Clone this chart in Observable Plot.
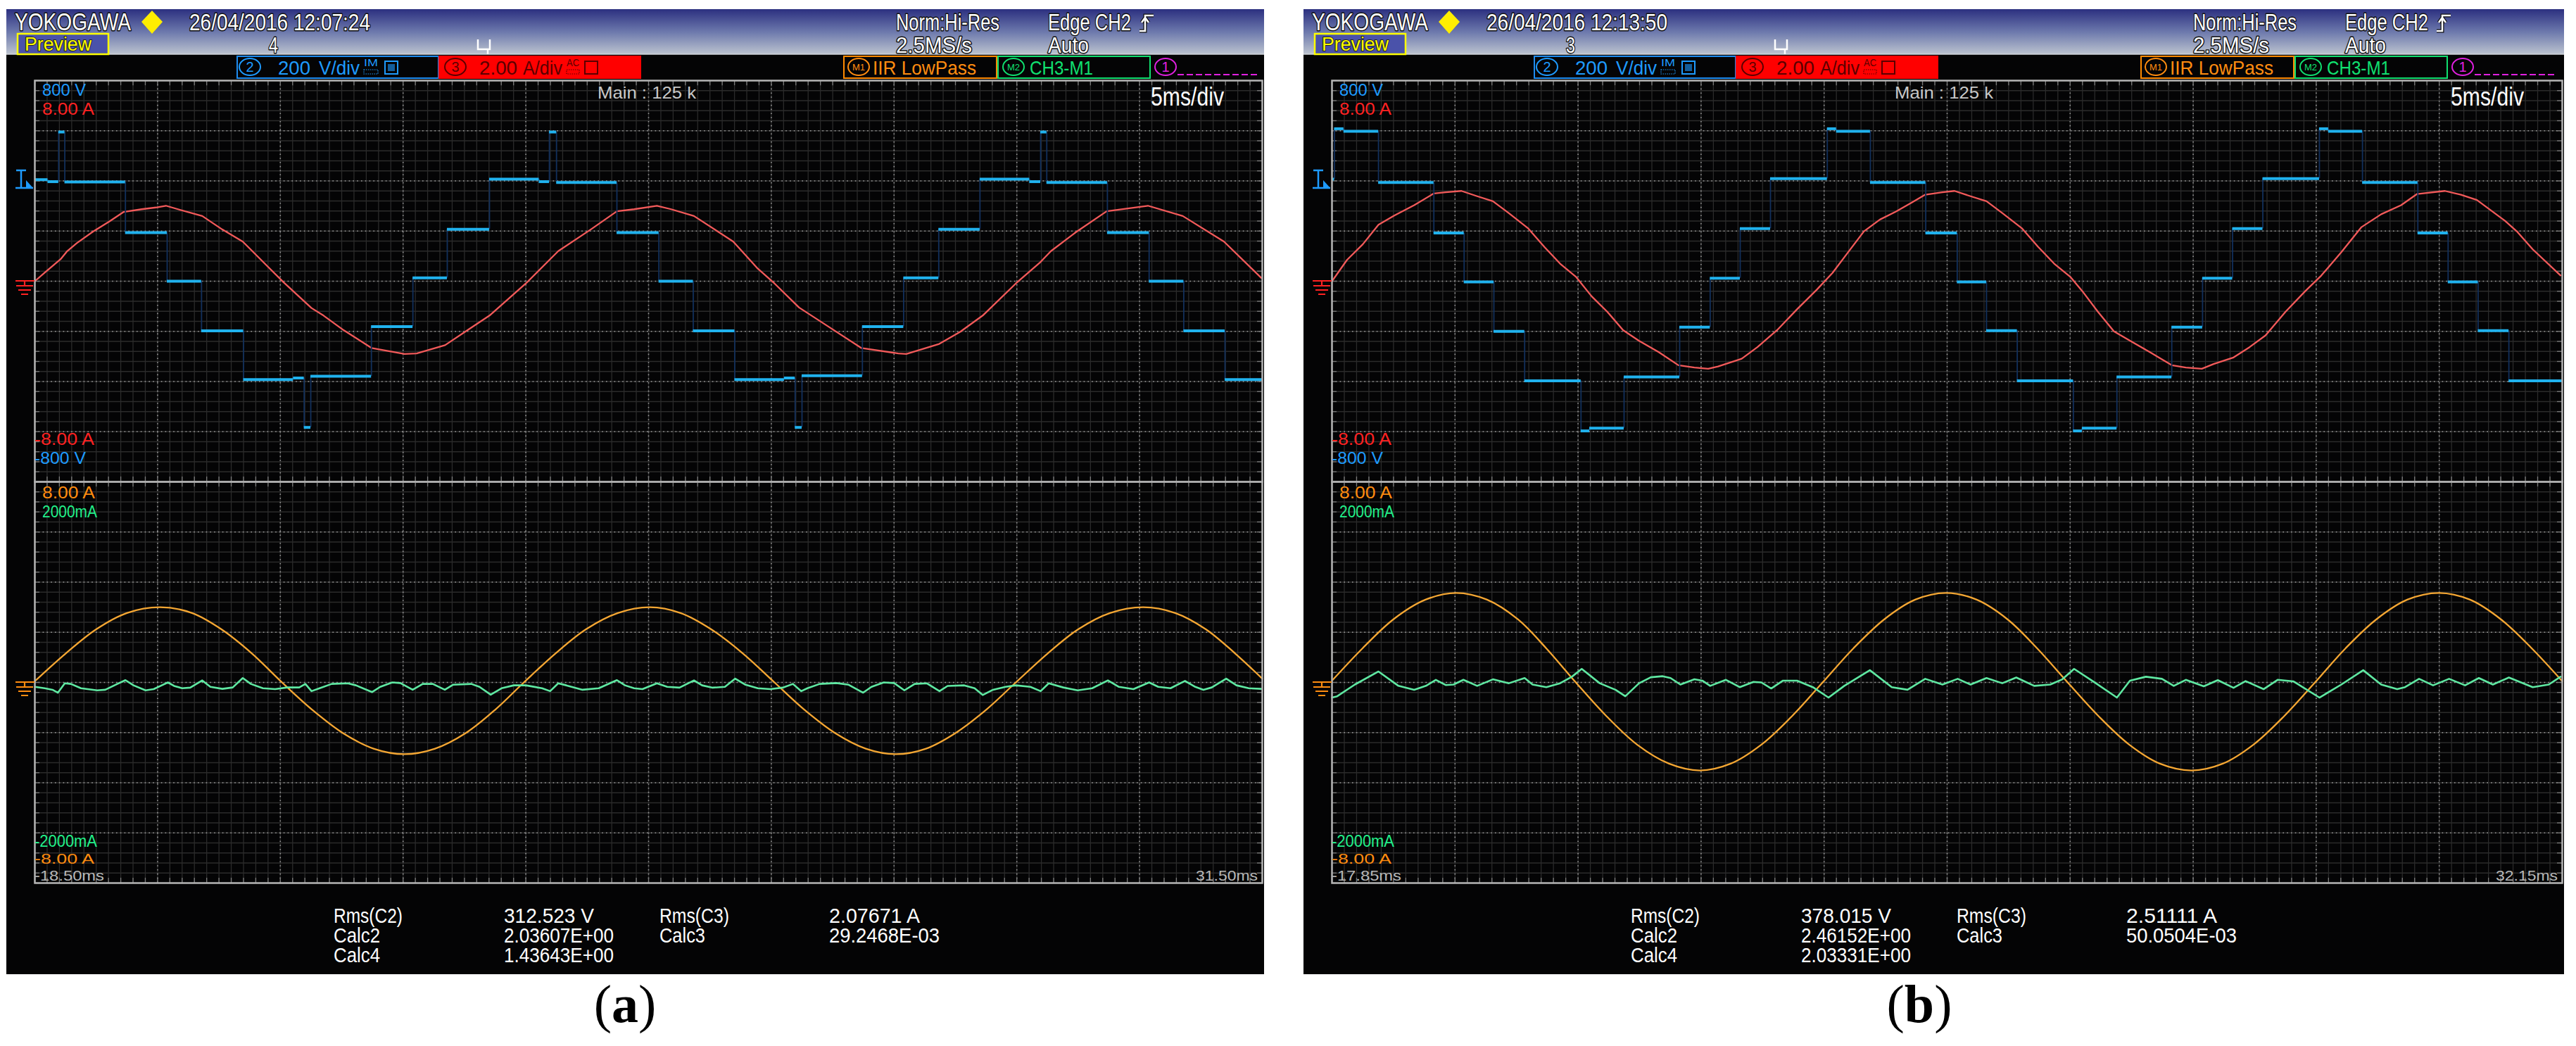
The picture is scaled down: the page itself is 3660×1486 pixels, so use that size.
<!DOCTYPE html>
<html><head><meta charset="utf-8">
<script src="https://cdn.jsdelivr.net/npm/d3@7"></script>
<script src="https://cdn.jsdelivr.net/npm/@observablehq/plot@0.6"></script>
<style>
html,body{margin:0;padding:0;background:#fff;}
#root{position:relative;width:3660px;height:1486px;overflow:hidden;background:#fff;}
.layer{position:absolute;left:0;top:0;}
</style></head><body><div id="root"></div>
<script>
// ---------------- DATA ----------------
// time in ms, voltage in V, current in A, difference current in mA
const blueStepsA = [[-18.5,405],[-17.97,397],[-17.53,595],[-17.28,396],[-14.81,194],[-13.11,0],[-11.71,-198],[-10.0,-392],[-7.97,-386],[-7.53,-583],[-7.26,-379],[-4.79,-181],[-3.1,13],[-1.7,207],[0.02,407],[2.04,397],[2.46,595],[2.75,394],[5.21,194],[6.92,0],[8.32,-198],[10.01,-392],[12.03,-386],[12.47,-583],[12.75,-377],[15.21,-181],[16.89,13],[18.32,207],[20.0,407],[22.02,397],[22.47,595],[22.72,394],[25.19,194],[26.89,0],[28.3,-198],[29.98,-392]];
const blueEndA = 31.5;
const redA = [[-18.5,0],[-18.1,0.34],[-17.45,0.88],[-17.2,1.18],[-16.79,1.52],[-16.13,1.98],[-15.47,2.38],[-14.89,2.76],[-14.15,2.87],[-13.57,2.94],[-13.16,3.01],[-12.67,2.87],[-11.68,2.6],[-10.86,2.06],[-10.03,1.58],[-9.04,0.61],[-8.38,-0.03],[-7.23,-1.07],[-6.74,-1.37],[-5.91,-1.96],[-4.79,-2.66],[-3.44,-2.9],[-2.95,-2.88],[-1.79,-2.55],[-0.81,-1.91],[0.02,-1.37],[1.5,-0.09],[2.82,1.2],[4.14,2.06],[5.21,2.79],[5.91,2.87],[6.84,3.01],[7.42,2.87],[8.35,2.6],[9.95,1.58],[10.95,0.5],[11.63,-0.09],[12.63,-1.05],[13.81,-1.8],[15.16,-2.66],[16.67,-2.88],[17.0,-2.9],[18.34,-2.5],[19.19,-2.02],[20.11,-1.37],[21.46,-0.09],[22.47,0.77],[22.89,1.2],[23.9,1.95],[25.16,2.79],[26.84,3.01],[28.26,2.6],[29.94,1.58],[31.46,0.13]];
const orangeA = [[-18.5,0.05],[-17.25,1.15],[-16.0,2.12],[-14.75,2.77],[-13.4,3.0],[-12.1,2.77],[-10.9,2.12],[-9.65,1.15],[-8.43,0],[-7.2,-1.09],[-5.95,-2.02],[-4.7,-2.64],[-3.44,-2.86],[-2.2,-2.64],[-0.95,-2.02],[0.25,-1.09],[1.42,0],[2.7,1.15],[3.95,2.12],[5.25,2.77],[6.55,3.0],[7.8,2.77],[9.05,2.12],[10.35,1.15],[11.63,0],[12.85,-1.09],[14.1,-2.02],[15.35,-2.64],[16.58,-2.86],[17.8,-2.64],[19.0,-2.02],[20.25,-1.09],[21.46,0],[22.75,1.15],[24.0,2.12],[25.3,2.77],[26.65,3.0],[27.95,2.77],[29.2,2.12],[30.4,1.15],[31.5,0.15]];
const greenA = [[-18.5,-44],[-18.1,-58],[-17.78,-73],[-17.56,-102],[-17.28,-9],[-17.03,-15],[-16.62,-58],[-15.96,-79],[-15.63,-73],[-15.14,-15],[-14.81,23],[-14.48,-29],[-13.99,-79],[-13.66,-67],[-13.33,-29],[-13.08,0],[-12.83,-35],[-12.5,-58],[-12.17,-52],[-11.68,20],[-11.35,-44],[-10.86,-64],[-10.44,-50],[-10.03,44],[-9.7,-15],[-9.21,-58],[-8.71,-67],[-8.22,-50],[-7.73,-50],[-7.48,-15],[-7.23,-87],[-6.9,-58],[-6.41,-15],[-5.75,-9],[-5.42,-29],[-4.76,-96],[-4.43,-44],[-3.94,0],[-3.61,-6],[-3.11,-73],[-2.7,-15],[-2.29,-15],[-1.8,-73],[-1.47,-23],[-0.72,-15],[-0.39,-44],[0.07,-122],[0.51,-58],[1.01,-29],[1.5,-29],[2.16,-58],[2.49,-87],[2.82,-9],[3.15,-29],[3.81,-73],[4.47,-58],[5.21,23],[5.54,-29],[5.91,-58],[6.25,-67],[6.84,-9],[7.26,-44],[7.76,-52],[8.35,20],[8.68,-29],[9.11,-52],[9.61,-44],[10.03,38],[10.45,-23],[10.95,-58],[11.46,-67],[11.96,-52],[12.38,-15],[12.72,-87],[12.97,-58],[13.47,-15],[14.15,-6],[14.65,-23],[15.24,-102],[15.58,-44],[16.08,0],[16.5,-6],[16.92,-79],[17.34,-15],[17.84,-9],[18.35,-87],[18.68,-35],[19.36,-29],[19.78,-58],[20.11,-125],[20.53,-73],[21.04,-44],[21.46,-29],[22.05,-44],[22.47,-87],[22.8,-9],[23.39,-50],[23.98,-79],[24.57,-58],[25.21,20],[25.66,-44],[26.25,-67],[26.89,0],[27.26,-44],[27.76,-58],[28.35,15],[28.77,-44],[29.1,-73],[29.44,-50],[30.03,38],[30.45,-29],[30.95,-58],[31.46,-64]];

const blueStepsB = [[-17.85,407],[-17.75,608],[-17.37,598],[-15.96,394],[-13.71,192],[-12.48,-3],[-11.27,-200],[-10.02,-397],[-7.73,-597],[-7.38,-586],[-5.98,-382],[-3.72,-183],[-2.48,12],[-1.26,210],[-0.03,409],[2.28,608],[2.65,598],[4.03,394],[6.28,192],[7.56,-3],[8.75,-197],[10.0,-397],[12.28,-597],[12.64,-586],[14.05,-382],[16.28,-183],[17.53,12],[18.75,210],[19.98,409],[22.28,608],[22.65,598],[24.03,394],[26.28,192],[27.51,-3],[28.73,-197],[29.98,-397]];
const blueEndB = 32.15;
const redB = [[-17.85,0],[-17.24,0.85],[-16.6,1.47],[-15.96,2.25],[-15.32,2.62],[-14.51,3.03],[-13.71,3.5],[-13.23,3.55],[-12.59,3.6],[-11.95,3.39],[-11.31,3.19],[-10.67,2.72],[-9.87,2.1],[-9.22,1.37],[-8.58,0.7],[-7.94,0.18],[-7.3,-0.6],[-6.66,-1.22],[-6.02,-1.95],[-5.38,-2.37],[-4.57,-2.83],[-3.77,-3.35],[-3.12,-3.44],[-2.56,-3.49],[-2.16,-3.4],[-1.2,-3.09],[-0.56,-2.63],[0.24,-1.95],[1.05,-1.12],[1.85,-0.34],[2.49,0.33],[3.13,1.16],[3.77,1.99],[4.42,2.46],[5.06,2.77],[5.7,3.13],[6.26,3.45],[6.96,3.55],[7.45,3.6],[8.1,3.39],[8.75,3.19],[9.39,2.72],[10.2,2.1],[10.85,1.37],[11.5,0.7],[12.15,0.18],[12.64,-0.39],[13.28,-1.22],[13.93,-2.0],[14.58,-2.37],[15.39,-2.83],[16.28,-3.35],[16.85,-3.44],[17.5,-3.49],[17.98,-3.3],[18.79,-3.04],[19.44,-2.63],[20.09,-2.16],[20.9,-1.22],[21.71,-0.39],[22.36,0.23],[23.17,1.16],[23.98,2.15],[24.79,2.67],[25.6,3.03],[26.25,3.48],[27.38,3.6],[28.03,3.45],[28.68,3.24],[29.82,2.41],[30.3,1.99],[30.95,1.27],[32.08,0.23]];
const orangeB = [[-17.85,0.07],[-16.6,1.37],[-15.35,2.52],[-14.05,3.3],[-12.8,3.57],[-11.55,3.3],[-10.3,2.52],[-9.15,1.37],[-7.94,0],[-6.7,-1.34],[-5.45,-2.48],[-4.15,-3.24],[-2.9,-3.51],[-1.65,-3.24],[-0.4,-2.48],[0.85,-1.34],[2.09,0],[3.35,1.37],[4.6,2.52],[5.85,3.3],[7.1,3.57],[8.35,3.3],[9.6,2.52],[10.8,1.37],[12.05,0],[13.3,-1.34],[14.55,-2.48],[15.8,-3.24],[17.08,-3.51],[18.35,-3.24],[19.6,-2.48],[20.85,-1.34],[22.1,0],[23.35,1.37],[24.6,2.52],[25.85,3.3],[27.14,3.57],[28.4,3.3],[29.65,2.52],[30.9,1.37],[32.15,0.05]];
const greenB = [[-17.85,-151],[-17.64,-138],[-16.92,-21],[-15.96,109],[-15.15,-34],[-14.51,-73],[-14.03,-34],[-13.63,26],[-13.23,-26],[-12.91,-21],[-12.51,26],[-11.95,-34],[-11.31,31],[-10.66,-8],[-10.02,44],[-9.7,-21],[-9.14,-47],[-8.58,-8],[-8.1,57],[-7.7,135],[-6.97,-8],[-6.33,-73],[-5.93,-138],[-5.37,-8],[-4.89,52],[-4.41,62],[-4.09,44],[-3.69,-21],[-3.12,31],[-2.8,18],[-2.48,-34],[-1.84,26],[-1.28,-47],[-0.72,5],[-0.4,0],[0.0,-60],[0.48,18],[1.05,18],[1.69,-47],[2.33,-151],[2.97,-34],[4.01,122],[4.9,-47],[5.54,-73],[6.26,36],[6.96,-21],[7.58,36],[8.1,-21],[8.75,44],[9.39,-8],[9.96,49],[10.69,-34],[11.34,-21],[11.83,31],[12.31,135],[13.12,5],[14.05,-151],[14.58,18],[15.23,57],[15.88,36],[16.36,-34],[16.85,26],[17.58,-39],[18.15,23],[18.79,-54],[19.28,13],[20.01,-67],[20.58,26],[21.23,10],[22.28,-151],[23.17,-21],[24.06,122],[24.79,-21],[25.44,-67],[25.76,-47],[26.33,36],[26.9,-29],[27.55,36],[28.2,-29],[28.76,44],[29.33,-21],[29.98,49],[30.95,-47],[31.6,-21],[32.08,57]];

// texts
const datesTxt = ["26/04/2016 12:07:24", "26/04/2016 12:13:50"];
const countTxt = ["4", "3"];
const timeStartTxt = ["-18.50ms", "-17.85ms"];
const timeEndTxt = ["31.50ms", "32.15ms"];
const measLabels = [["Rms(C2)", "Rms(C3)"], ["Calc2", "Calc3"], ["Calc4", ""]];
const measValuesA = [["312.523 V", "2.07671 A"], ["2.03607E+00", "29.2468E-03"], ["1.43643E+00", ""]];
const measValuesB = [["378.015 V", "2.51111 A"], ["2.46152E+00", "50.0504E-03"], ["2.03331E+00", ""]];
const panelLabels = ["a", "b"];

// per-channel scale (units per division)
const VDIV = 200, ADIV = 2, MADIV = 500, MSDIV = 5;

// ---------------- LAYOUT ----------------
const panels = [
  {L: 9, R: 1796, gx: 49, gw: 1744, t0: -18.5, blue: blueStepsA, blueEnd: blueEndA, red: redA, orange: orangeA, green: greenA, meas: measValuesA, labelX: 888},
  {L: 1852, R: 3643, gx: 1892, gw: 1748, t0: -17.85, blue: blueStepsB, blueEnd: blueEndB, red: redB, orange: orangeB, green: greenB, meas: measValuesB, labelX: 2727}
];
const GTOP = 114, GMID = 684, GBOT = 1254;
const FONT = "'Liberation Sans', Arial, sans-serif";
const C = {blue: "#1e9bff", bluetr: "#20b2ee", bluejump: "#12305c", red: "#ff2222", redtr: "#f25a5a",
  orange: "#ff8c10", orangetr: "#f5a733", green: "#22f08a", greentr: "#5fe8a2", grey: "#b8b8b8"};

const root = document.getElementById("root");
const bg = d3.select(root).append("svg").attr("class", "layer").attr("width", 3660).attr("height", 1486);
const defs = bg.append("defs");
const grad = defs.append("linearGradient").attr("id", "hdr").attr("x1", 0).attr("y1", 0).attr("x2", 0).attr("y2", 1);
grad.append("stop").attr("offset", "0%").attr("stop-color", "#2c3080");
grad.append("stop").attr("offset", "50%").attr("stop-color", "#6c78ac");
grad.append("stop").attr("offset", "100%").attr("stop-color", "#bcc3cf");

function txt(g, s, x1, x2, base, size, fill, opt = {}) {
  const t = g.append("text").attr("x", x1).attr("y", base)
    .attr("font-family", opt.family || FONT).attr("font-size", size).attr("fill", fill).text(s);
  if (x2 != null) t.attr("textLength", x2 - x1).attr("lengthAdjust", "spacingAndGlyphs");
  if (opt.stroke) t.attr("stroke", opt.stroke).attr("stroke-width", opt.sw || 3).attr("paint-order", "stroke").attr("stroke-linejoin", "round");
  if (opt.weight) t.attr("font-weight", opt.weight);
  return t;
}
function circ(g, cx, cy, label, color, size) {
  g.append("ellipse").attr("cx", cx).attr("cy", cy).attr("rx", 15).attr("ry", 12).attr("fill", "none").attr("stroke", color).attr("stroke-width", 2);
  g.append("text").attr("x", cx).attr("y", cy + size * 0.36).attr("text-anchor", "middle").attr("font-family", FONT)
    .attr("font-size", size).attr("fill", color).text(label);
}

// backgrounds + header
panels.forEach((p, k) => {
  const L = p.L, PW = p.R - p.L;
  bg.append("rect").attr("x", L).attr("y", 13).attr("width", PW).attr("height", 1371).attr("fill", "#040405");
  bg.append("rect").attr("x", L).attr("y", 13).attr("width", PW).attr("height", 64).attr("fill", "url(#hdr)");
  bg.append("line").attr("x1", L).attr("x2", p.R).attr("y1", 77).attr("y2", 77).attr("stroke", "#d0d4dc").attr("stroke-width", 1.5);
});

// ---------------- WINDOWS (Plot) ----------------
function segs(steps, end) { return steps.map((s, i) => ({x1: s[0], x2: i + 1 < steps.length ? steps[i + 1][0] : end, v: s[1]})); }
function jumps(steps) { return steps.slice(1).map((s, i) => ({x: s[0], v1: steps[i][1], v2: s[1]})); }

function gridMarks(t0) {
  const t1 = t0 + 10 * MSDIV;
  const minorX = d3.range(0, 101).map(i => t0 + i * MSDIV / 10);
  const minorY = d3.range(0, 41).map(i => -4 + i * 0.2);
  const majorX = d3.range(1, 10).map(i => t0 + i * MSDIV);
  const majorY = d3.range(-3, 4);
  return [
    Plot.ruleX(minorX, {stroke: "#2b2b2b", strokeWidth: 1.3}),
    Plot.ruleY(minorY, {stroke: "#2b2b2b", strokeWidth: 1.3}),
    Plot.ruleX(majorX, {stroke: "#9c9c9c", strokeWidth: 1.6, strokeDasharray: "1.6,4.2"}),
    Plot.ruleY(majorY, {stroke: "#9c9c9c", strokeWidth: 1.6, strokeDasharray: "1.6,4.2"}),
    // edge ticks of the screen frame
    Plot.ruleX(minorX, {y1: 4, y2: 3.9, stroke: "#7a7a7a", strokeWidth: 1.3}),
    Plot.ruleX(minorX, {y1: -4, y2: -3.9, stroke: "#7a7a7a", strokeWidth: 1.3}),
    Plot.ruleY(minorY, {x1: t0, x2: t0 + 0.2, stroke: "#7a7a7a", strokeWidth: 1.3}),
    Plot.ruleY(minorY, {x1: t1, x2: t1 - 0.2, stroke: "#7a7a7a", strokeWidth: 1.3})
  ];
}
function windowPlot(p, marks) {
  return Plot.plot({
    width: p.gw + 4, height: 574, marginLeft: 2, marginRight: 2, marginTop: 2, marginBottom: 2,
    x: {domain: [p.t0, p.t0 + 10 * MSDIV], axis: null},
    y: {domain: [-4, 4], axis: null},
    style: {background: "transparent", overflow: "visible"},
    marks: [...gridMarks(p.t0), ...marks, Plot.frame({stroke: "#b4b4b4", strokeWidth: 2.5})]
  });
}
panels.forEach(p => {
  const up = windowPlot(p, [
    Plot.line(p.red, {x: d => d[0], y: d => d[1] / ADIV, stroke: C.redtr, strokeWidth: 2.3}),
    Plot.ruleX(jumps(p.blue), {x: "x", y1: d => d.v1 / VDIV, y2: d => d.v2 / VDIV, stroke: C.bluejump, strokeWidth: 1.8}),
    Plot.ruleY(segs(p.blue, p.blueEnd), {y: d => d.v / VDIV, x1: "x1", x2: "x2", stroke: C.bluetr, strokeWidth: 4})
  ]);
  up.style.position = "absolute"; up.style.left = (p.gx - 2) + "px"; up.style.top = (GTOP - 2) + "px";
  root.appendChild(up);
  const lo = windowPlot(p, [
    Plot.line(p.orange, {x: d => d[0], y: d => d[1] / ADIV, stroke: C.orangetr, strokeWidth: 2.3, curve: "catmull-rom"}),
    Plot.line(p.green, {x: d => d[0], y: d => d[1] / MADIV, stroke: C.greentr, strokeWidth: 2.6})
  ]);
  lo.style.position = "absolute"; lo.style.left = (p.gx - 2) + "px"; lo.style.top = (GMID - 2) + "px";
  root.appendChild(lo);
});

// ---------------- OVERLAY TEXT ----------------
const ov = d3.select(root).append("svg").attr("class", "layer").attr("width", 3660).attr("height", 1486).style("pointer-events", "none");

panels.forEach((p, k) => {
  const L = p.L, gx = p.gx, gr = p.gx + p.gw;
  const g = ov.append("g");
  // header
  txt(g, "YOKOGAWA", L + 12, L + 177, 43, 35, "#ffffff", {stroke: "#101010", sw: 3});
  g.append("polygon").attr("points", `${L+207},15 ${L+222},31 ${L+207},48 ${L+192},31`).attr("fill", "#ffee00");
  txt(g, datesTxt[k], L + 260, L + 517, 43, 34, "#ffffff", {stroke: "#101010", sw: 3});
  g.append("rect").attr("x", L + 16).attr("y", 48).attr("width", 129).attr("height", 29).attr("fill", "#4a52aa").attr("stroke", "#ffff00").attr("stroke-width", 2.5);
  txt(g, "Preview", L + 26, L + 121, 72, 27, "#ffff00", {stroke: "#202020", sw: 2});
  txt(g, countTxt[k], L + 373, L + 386, 75, 31, "#ffffff", {stroke: "#101010", sw: 3});
  g.append("path").attr("d", `M${L+670},56 V70 H${L+687} V56 M${L+684},70 V77`).attr("fill", "none").attr("stroke", "#ffffff").attr("stroke-width", 2.5);
  txt(g, "Norm:Hi-Res", L + 1264, L + 1411, 43, 34, "#ffffff", {stroke: "#101010", sw: 3});
  txt(g, "2.5MS/s", L + 1264, L + 1372, 75, 31, "#ffffff", {stroke: "#101010", sw: 3});
  txt(g, "Edge CH2", L + 1480, L + 1598, 43, 34, "#ffffff", {stroke: "#101010", sw: 3});
  const edge = `M${L+1610},44 H${L+1618} V22 H${L+1630} M${L+1613},32 L${L+1618},25 L${L+1623},32`;
  g.append("path").attr("d", edge).attr("fill", "none").attr("stroke", "#101010").attr("stroke-width", 5);
  g.append("path").attr("d", edge).attr("fill", "none").attr("stroke", "#ffffff").attr("stroke-width", 2.5);
  txt(g, "Auto", L + 1480, L + 1538, 75, 31, "#ffffff", {stroke: "#101010", sw: 3});

  // channel boxes
  g.append("rect").attr("x", L + 328).attr("y", 80).attr("width", 286).attr("height", 31).attr("fill", "none").attr("stroke", "#1e8cf0").attr("stroke-width", 2);
  circ(g, L + 346, 95, "2", C.blue, 20);
  txt(g, "200", L + 386, L + 432, 106, 28, C.blue);
  txt(g, "V/div", L + 444, L + 502, 106, 28, C.blue);
  txt(g, "IM", L + 508, L + 528, 94, 14, C.blue);
  g.append("rect").attr("x", L + 508).attr("y", 99).attr("width", 20).attr("height", 6).attr("fill", "none").attr("stroke", C.blue).attr("stroke-width", 1.2).attr("stroke-dasharray", "1.5,1.5");
  g.append("rect").attr("x", L + 538).attr("y", 87).attr("width", 18).attr("height", 18).attr("fill", "none").attr("stroke", C.blue).attr("stroke-width", 2);
  g.append("rect").attr("x", L + 542).attr("y", 91).attr("width", 10).attr("height", 10).attr("fill", C.blue).attr("opacity", 0.6);

  g.append("rect").attr("x", L + 614).attr("y", 79).attr("width", 288).attr("height", 33).attr("fill", "#ff0000");
  circ(g, L + 638, 95, "3", "#5a0000", 20);
  txt(g, "2.00", L + 672, L + 726, 106, 28, "#5a0000");
  txt(g, "A/div", L + 734, L + 790, 106, 28, "#5a0000");
  txt(g, "AC", L + 796, L + 814, 94, 14, "#5a0000");
  g.append("rect").attr("x", L + 796).attr("y", 99).attr("width", 18).attr("height", 6).attr("fill", "none").attr("stroke", "#5a0000").attr("stroke-width", 1.2).attr("stroke-dasharray", "1.5,1.5");
  g.append("rect").attr("x", L + 822).attr("y", 87).attr("width", 18).attr("height", 18).attr("fill", "none").attr("stroke", "#5a0000").attr("stroke-width", 2);

  g.append("rect").attr("x", L + 1190).attr("y", 80).attr("width", 217).attr("height", 31).attr("fill", "none").attr("stroke", "#ff8a00").attr("stroke-width", 2);
  circ(g, L + 1211, 95, "M1", C.orange, 13);
  txt(g, "IIR LowPass", L + 1231, L + 1378, 106, 28, C.orange);
  g.append("rect").attr("x", L + 1409).attr("y", 80).attr("width", 216).attr("height", 31).attr("fill", "none").attr("stroke", "#10e070").attr("stroke-width", 2);
  circ(g, L + 1431, 95, "M2", "#10e070", 13);
  txt(g, "CH3-M1", L + 1454, L + 1544, 106, 28, "#10e070");
  circ(g, L + 1647, 95, "1", "#e020e0", 20);
  g.append("line").attr("x1", L + 1664).attr("x2", L + 1778).attr("y1", 106).attr("y2", 106).attr("stroke", "#e020e0").attr("stroke-width", 2).attr("stroke-dasharray", "9,4");

  // markers left of the grid
  const B = C.blue;
  g.append("path").attr("d", `M${L+14},242 H${L+28} M${L+21},242 V267 M${L+13},267 H${L+38}`).attr("fill", "none").attr("stroke", B).attr("stroke-width", 2.5);
  g.append("path").attr("d", `M${L+28},256 L${L+38},267 L${L+28},267 Z`).attr("fill", B);
  [[399, C.red], [969, C.orange]].forEach(([y, col]) => {
    g.append("path").attr("d", `M${L+13},${y} H${L+40} M${L+26},${y} V${y+7} M${L+14},${y+7} H${L+38} M${L+17},${y+13} H${L+35} M${L+21},${y+19} H${L+31}`)
      .attr("fill", "none").attr("stroke", col).attr("stroke-width", 2.2);
  });

  // grid texts
  txt(g, "800 V", gx + 11, gx + 73, 136, 24, C.blue);
  txt(g, "8.00 A", gx + 11, gx + 85, 163, 24, C.red);
  txt(g, "Main : 125 k", gx + 800, gx + 940, 140, 24, "#c8c8c8");
  txt(g, "5ms/div", gr - 158, gr - 54, 150, 37, "#ffffff");
  txt(g, "-8.00 A", gx, gx + 85, 632, 24, C.red);
  txt(g, "-800 V", gx, gx + 73, 659, 24, C.blue);
  txt(g, "8.00 A", gx + 11, gx + 86, 708, 24, C.orange);
  txt(g, "2000mA", gx + 11, gx + 89, 735, 24, C.green);
  txt(g, "-2000mA", gx, gx + 89, 1203, 24, C.green);
  txt(g, "-8.00 A", gx, gx + 85, 1227, 21, C.orange);
  txt(g, timeStartTxt[k], gx, gx + 99, 1251, 21, C.grey);
  txt(g, timeEndTxt[k], gr - 94, gr - 6, 1251, 21, C.grey);

  // measurements
  const bases = [1311, 1339, 1367];
  const labW = [[98, 99], [66, 65], [66, 0]];
  bases.forEach((b, r) => {
    if (measLabels[r][0]) txt(g, measLabels[r][0], L + 465, L + 465 + labW[r][0], b, 30, "#ffffff");
    if (p.meas[r][0]) txt(g, p.meas[r][0], L + 707, L + 707 + (r === 0 ? 128 : 156), b, 30, "#ffffff");
    if (measLabels[r][1]) txt(g, measLabels[r][1], L + 928, L + 928 + labW[r][1], b, 30, "#ffffff");
    if (p.meas[r][1]) txt(g, p.meas[r][1], L + 1169, L + 1169 + (r === 0 ? 129 : 157), b, 30, "#ffffff");
  });

  // panel label
  const lt = ov.append("text").attr("x", p.labelX).attr("y", 1452).attr("text-anchor", "middle")
    .attr("font-family", "'Liberation Serif', 'Times New Roman', serif").attr("font-size", 76).attr("fill", "#000");
  lt.append("tspan").text("(");
  lt.append("tspan").attr("font-weight", "bold").text(panelLabels[k]);
  lt.append("tspan").text(")");
});
</script></body></html>
